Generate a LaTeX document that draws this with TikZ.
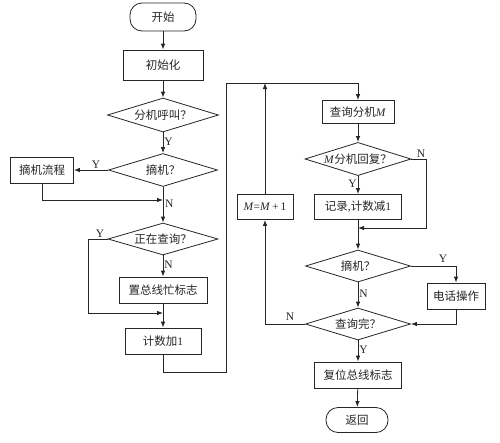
\documentclass[tikz,border=0pt]{standalone}
\usepackage{fontspec}
\setmainfont{Liberation Serif}
\newfontfamily\cjk{Noto Sans CJK SC}
\usetikzlibrary{shapes.geometric,arrows.meta}
\begin{document}
\begin{tikzpicture}[x=1pt,y=-1pt,
  font=\fontsize{11.5}{13}\selectfont,
  every node/.style={text=black!85},
  line/.style={draw=black!85,line width=0.8pt},
  arr/.style={line,-{Latex[length=6pt,width=4.5pt]}},
  box/.style={line,rectangle,inner sep=0pt,fill=white},
  term/.style={line,rectangle,rounded corners=12pt,inner sep=0pt,fill=white},
  dec/.style={line,diamond,aspect=3,inner sep=0pt,fill=white},
  lab/.style={inner sep=1pt,font=\fontsize{11.5}{13}\selectfont}]
\useasboundingbox[fill=white] (0,0) rectangle (500,442);

\node[term,minimum width=66pt,minimum height=28pt] (start) at (163,17) {\cjk 开始};
\node[box,minimum width=80pt,minimum height=30pt] (init) at (163,65) {\cjk 初始化};
\node[dec,minimum width=111pt,minimum height=34pt] (d1) at (163,115) {\cjk 分机呼叫？};
\node[dec,minimum width=109pt,minimum height=33pt] (d2) at (163,170) {\cjk 摘机？};
\node[box,minimum width=63pt,minimum height=26pt] (pick) at (42,170) {\cjk 摘机流程};
\node[dec,minimum width=110pt,minimum height=32pt] (d3) at (163,239) {\cjk 正在查询？};
\node[box,minimum width=88pt,minimum height=26pt] (busy) at (163,290) {\cjk 置总线忙标志};
\node[box,minimum width=76pt,minimum height=26pt] (cnt) at (163,341) {{\cjk 计数加}1};

\node[box,minimum width=72pt,minimum height=23pt] (query) at (358,112) {{\cjk 查询分机}\textit{M}};
\node[dec,minimum width=106pt,minimum height=32pt] (d4) at (358,159) {\textit{M}{\cjk 分机回复？}};
\node[box,minimum width=87pt,minimum height=25pt] (rec) at (358,207) {{\cjk 记录},{\cjk 计数减}1};
\node[box,minimum width=56pt,minimum height=25pt] (minc) at (265,207) {\textit{M}=\textit{M}\,+\,1};
\node[dec,minimum width=105pt,minimum height=32pt] (d5) at (358,266) {\cjk 摘机？};
\node[box,minimum width=58pt,minimum height=26pt] (phone) at (456,296) {\cjk 电话操作};
\node[dec,minimum width=105pt,minimum height=32pt] (d6) at (358,324) {\cjk 查询完？};
\node[box,minimum width=87pt,minimum height=26pt] (reset) at (358,375) {\cjk 复位总线标志};
\node[term,minimum width=62pt,minimum height=25pt] (ret) at (357,420) {\cjk 返回};

\coordinate (j1) at (163,200);
\coordinate (j2) at (163,313);
\coordinate (c1) at (163,372);
\coordinate (c2) at (226,372);
\coordinate (c3) at (226,83);
\coordinate (c4) at (358,83);
\coordinate (j3) at (358,228);
\coordinate (r1) at (426,159);
\coordinate (l1) at (88,239);

\draw[arr] (start) -- (init);
\draw[arr] (init) -- (d1);
\draw[arr] (d1) -- node[lab,right,pos=0.45]{Y} (d2);
\draw[arr] (d2.west) -- node[lab,above,pos=0.35]{Y} (pick.east);
\draw[arr] (pick.south) |- (j1);
\draw[arr] (d2.south) -- (d3.north);
\node[lab,right] at (164,204) {N};
\draw[arr] (d3.west) -- (l1) |- (j2);
\node[lab,above] at (100,239) {Y};
\draw[arr] (d3) -- node[lab,right,pos=0.45]{N} (busy);
\draw[arr] (busy) -- (cnt);
\draw[arr] (cnt.south) -- (c1) -- (c2) -- (c3) -- (c4) -- (query.north);
\draw[arr] (minc.north) -- (minc.north |- c3);

\draw[arr] (query) -- (d4);
\draw[arr] (d4) -- node[lab,left,pos=0.45]{Y} (rec);
\draw[arr] (d4.east) -- (r1) |- (j3);
\node[lab,above] at (421,159) {N};
\draw[arr] (rec) -- (d5);
\draw[arr] (d5.east) -| (phone.north);
\node[lab,above] at (443,264) {Y};
\draw[arr] (d5) -- node[lab,right,pos=0.45]{N} (d6);
\draw[arr] (phone.south) |- (d6.east);
\draw[arr] (d6.west) -| (minc.south);
\node[lab,above] at (290,322) {N};
\draw[arr] (d6) -- node[lab,right,pos=0.45]{Y} (reset);
\draw[arr] (reset) -- (ret);
\end{tikzpicture}
\end{document}
